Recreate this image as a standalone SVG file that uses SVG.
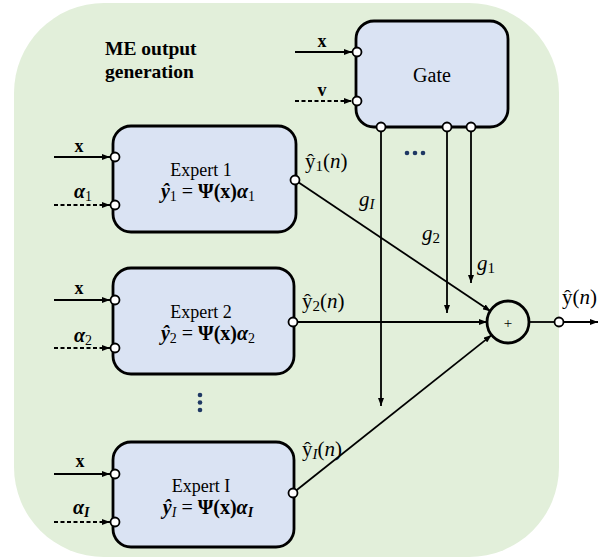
<svg xmlns="http://www.w3.org/2000/svg" width="602" height="559" viewBox="0 0 602 559">
<defs>
<style>
.bg{fill:#E2EFDA;stroke:none}
.box{fill:#DAE3F3;stroke:#000;stroke-width:2.8}
.ln{fill:none;stroke:#000;stroke-width:1.8}
.dash{stroke-dasharray:4 2.5}
.port{fill:#fff;stroke:#000;stroke-width:1.8}
.t{font-family:"Liberation Serif","Times New Roman",serif;fill:#000}
.title{font-size:19.5px;font-weight:bold}
.name{font-size:18px;text-anchor:middle}
.eq{font-size:20px;text-anchor:middle}
.lab{font-size:18px;font-weight:bold;text-anchor:middle}
.sig{font-size:21px}
.bi{font-weight:bold;font-style:italic}
.b{font-weight:bold}
.i{font-style:italic}
.dot{fill:#1F3864}
</style>
<marker id="ah" markerWidth="8" markerHeight="6" refX="8" refY="3" orient="auto" markerUnits="userSpaceOnUse">
<path d="M0,0 L8,3 L0,6 z" fill="#000"/>
</marker>
</defs>

<rect class="bg" x="14" y="3" width="545" height="554" rx="90" ry="90"/>

<text class="t title" x="105" y="55">ME output</text>
<text class="t title" x="105" y="78">generation</text>

<g id="connectors">
  <line class="ln" x1="54" y1="157" x2="110" y2="157" marker-end="url(#ah)"/>
  <line class="ln dash" x1="54" y1="205" x2="110" y2="205" marker-end="url(#ah)"/>
  <line class="ln" x1="54" y1="300" x2="110" y2="300" marker-end="url(#ah)"/>
  <line class="ln dash" x1="54" y1="348" x2="110" y2="348" marker-end="url(#ah)"/>
  <line class="ln" x1="54" y1="474" x2="110" y2="474" marker-end="url(#ah)"/>
  <line class="ln dash" x1="54" y1="522" x2="110" y2="522" marker-end="url(#ah)"/>
  <line class="ln" x1="295" y1="52" x2="352" y2="52" marker-end="url(#ah)"/>
  <line class="ln dash" x1="295" y1="101" x2="352" y2="101" marker-end="url(#ah)"/>
  <line class="ln" x1="381" y1="127" x2="381" y2="406" marker-end="url(#ah)"/>
  <line class="ln" x1="447" y1="127" x2="447" y2="313" marker-end="url(#ah)"/>
  <line class="ln" x1="471" y1="127" x2="471" y2="283" marker-end="url(#ah)"/>
  <line class="ln" x1="295" y1="180" x2="490.6" y2="311.3" marker-end="url(#ah)"/>
  <line class="ln" x1="293" y1="322" x2="487" y2="322" marker-end="url(#ah)"/>
  <line class="ln" x1="293" y1="493" x2="491.6" y2="335.1" marker-end="url(#ah)"/>
  <line class="ln" x1="529" y1="322" x2="555" y2="322"/>
  <line class="ln" x1="563" y1="322" x2="598" y2="322" marker-end="url(#ah)"/>
</g>

<g id="expert1">
  <rect class="box" x="113" y="126" width="183" height="106" rx="18"/>
  <text class="t name" x="201" y="176">Expert 1</text>
  <text class="t eq" x="208" y="198"><tspan class="bi">ŷ</tspan><tspan font-size="14" dy="3">1</tspan><tspan dy="-3"> = </tspan><tspan class="b">Ψ(x)</tspan><tspan class="bi">α</tspan><tspan font-size="14" dy="3">1</tspan></text>
  <circle class="port" cx="115" cy="157" r="4.5"/>
  <circle class="port" cx="115" cy="205" r="4.5"/>
  <circle class="port" cx="295" cy="180" r="4.5"/>
</g>

<g id="expert2">
  <rect class="box" x="113" y="268" width="181" height="106" rx="18"/>
  <text class="t name" x="201" y="318">Expert 2</text>
  <text class="t eq" x="208" y="340"><tspan class="bi">ŷ</tspan><tspan font-size="14" dy="3">2</tspan><tspan dy="-3"> = </tspan><tspan class="b">Ψ(x)</tspan><tspan class="bi">α</tspan><tspan font-size="14" dy="3">2</tspan></text>
  <circle class="port" cx="115" cy="300" r="4.5"/>
  <circle class="port" cx="115" cy="348" r="4.5"/>
  <circle class="port" cx="293" cy="322" r="4.5"/>
</g>

<g id="expertI">
  <rect class="box" x="113" y="442" width="181" height="105" rx="18"/>
  <text class="t name" x="201" y="492">Expert I</text>
  <text class="t eq" x="208" y="514"><tspan class="bi">ŷ</tspan><tspan font-size="14" class="i" dy="3">I</tspan><tspan dy="-3"> = </tspan><tspan class="b">Ψ(x)</tspan><tspan class="bi">α</tspan><tspan font-size="14" class="bi" dy="3">I</tspan></text>
  <circle class="port" cx="115" cy="474" r="4.5"/>
  <circle class="port" cx="115" cy="522" r="4.5"/>
  <circle class="port" cx="293" cy="493" r="4.5"/>
</g>

<g id="gate">
  <rect class="box" x="356" y="21" width="152" height="106" rx="18"/>
  <text class="t" x="432" y="82" font-size="20" text-anchor="middle">Gate</text>
  <circle class="port" cx="357" cy="52" r="4.5"/>
  <circle class="port" cx="357" cy="101" r="4.5"/>
  <circle class="port" cx="381" cy="127" r="4.5"/>
  <circle class="port" cx="447" cy="127" r="4.5"/>
  <circle class="port" cx="471" cy="127" r="4.5"/>
</g>

<g id="sum">
  <circle cx="508" cy="322" r="21" fill="none" stroke="#000" stroke-width="2.8"/>
  <text class="t" x="508" y="328" font-size="15" text-anchor="middle">+</text>
  <circle class="port" cx="559" cy="322" r="4.5"/>
</g>

<g id="labels">
  <text class="t lab" x="79" y="152">x</text>
  <text class="t" x="74" y="198" font-size="20"><tspan class="bi">α</tspan><tspan font-size="14" dy="3">1</tspan></text>
  <text class="t lab" x="79" y="294">x</text>
  <text class="t" x="74" y="342" font-size="20"><tspan class="bi">α</tspan><tspan font-size="14" dy="3">2</tspan></text>
  <text class="t lab" x="80" y="467">x</text>
  <text class="t" x="73" y="514" font-size="20"><tspan class="bi">α</tspan><tspan font-size="14" class="bi" dy="3">I</tspan></text>
  <text class="t lab" x="322" y="47">x</text>
  <text class="t lab" x="322" y="96">v</text>

  <text class="t sig" x="305" y="168">ŷ<tspan font-size="15" dy="3">1</tspan><tspan dy="-3">(</tspan><tspan class="i">n</tspan>)</text>
  <text class="t sig" x="302" y="308">ŷ<tspan font-size="15" dy="3">2</tspan><tspan dy="-3">(</tspan><tspan class="i">n</tspan>)</text>
  <text class="t sig" x="302" y="456">ŷ<tspan font-size="15" class="i" dy="3">I</tspan><tspan dy="-3">(</tspan><tspan class="i">n</tspan>)</text>
  <text class="t sig" x="562" y="304">ŷ(<tspan class="i">n</tspan>)</text>

  <text class="t sig i" x="359" y="206">g<tspan font-size="15" dy="3">I</tspan></text>
  <text class="t sig i" x="422" y="240">g<tspan font-size="15" font-style="normal" dy="3">2</tspan></text>
  <text class="t sig i" x="477" y="270">g<tspan font-size="15" font-style="normal" dy="3">1</tspan></text>

  <circle class="dot" cx="407" cy="153" r="2.3"/>
  <circle class="dot" cx="415" cy="153" r="2.3"/>
  <circle class="dot" cx="423" cy="153" r="2.3"/>
  <circle class="dot" cx="200" cy="395" r="2.3"/>
  <circle class="dot" cx="200" cy="402.5" r="2.3"/>
  <circle class="dot" cx="200" cy="410" r="2.3"/>
</g>
</svg>
